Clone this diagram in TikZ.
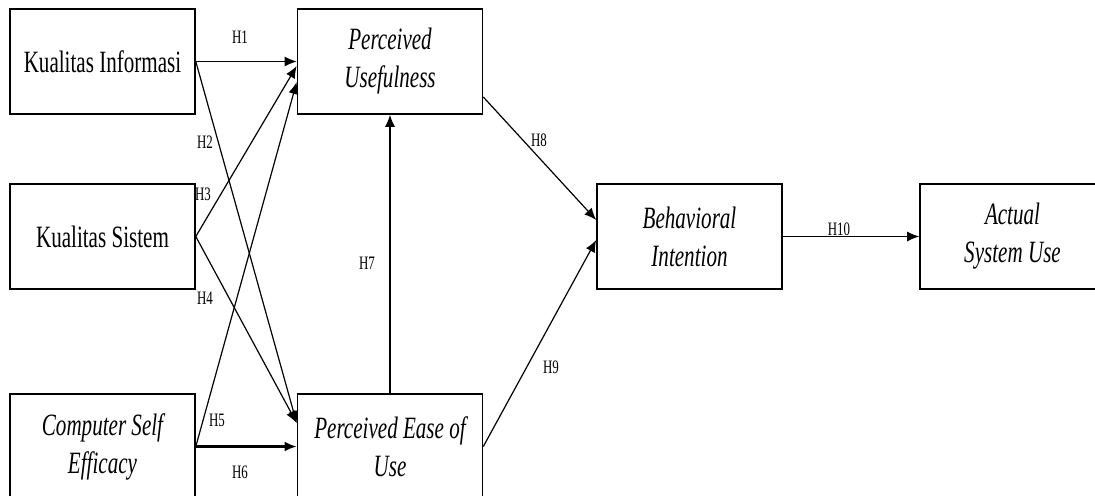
\documentclass[tikz,border=0pt]{standalone}
\usepackage{fontspec}
\newfontfamily\diagfont[FakeStretch=0.68]{Liberation Serif}
\usetikzlibrary{calc,arrows.meta}

\begin{document}
\begin{tikzpicture}[x=0.5pt, y=-0.5pt,
	box/.style={draw, line width=0.8pt, minimum width=92.5pt, minimum height=52.5pt, align=center, inner sep=0pt, font=\diagfont\fontsize{15.5}{19}\selectfont},
	itbox/.style={box, font=\diagfont\fontsize{15.5}{19}\selectfont\itshape},
	link/.style={arrows={-Latex[length=6pt, width=5pt]}, line width=0.6pt},
	hlab/.style={inner sep=0pt, font=\diagfont\fontsize{9.5}{10}\selectfont}]
	\useasboundingbox (0,0) rectangle (1095,495);
	\clip (0,0) rectangle (1095,495);
	\node [box] (ki) at (102.5,61.5) {Kualitas Informasi};
	\node [box] (ks) at (102.5,236.5) {Kualitas Sistem};
	\node [itbox] (cse) at (102.5,446.5) {Computer Self\\Efficacy};
	\node [itbox] (pu) at (390,61.5) {Perceived\\Usefulness};
	\node [itbox] (peu) at (390,446.5) {Perceived Ease of\\Use};
	\node [itbox] (bi) at (689.5,236.5) {Behavioral\\Intention};
	\node [itbox] (asu) at (1012.5,236.5) {Actual\\System Use};
	\coordinate (puin3) at ($(pu.west)+(0,4.5)$);
	\coordinate (puin5) at ($(pu.west)+(0,20.5)$);
	\coordinate (peuin) at ($(peu.west)+(0,-23.5)$);
	\coordinate (puout) at ($(pu.east)+(0,35.5)$);
	\coordinate (biin8) at ($(bi.west)+(0,-16.5)$);
	\coordinate (biin9) at ($(bi.west)+(0,3.5)$);
	\draw [link] (ki.east) -- (pu.west);
	\draw [link] (ki.east) -- (peuin);
	\draw [link] (ks.east) -- (puin3);
	\draw [link] (ks.east) -- (peuin);
	\draw [link] (cse.east) -- (puin5);
	\draw [link, line width=1.3pt] (cse.east) -- (peu.west);
	\draw [link] (peu.north) -- (pu.south);
	\draw [link] (puout) -- (biin8);
	\draw [link] (peu.east) -- (biin9);
	\draw [link] (bi.east) -- (asu.west);
	\node [hlab] (h1) at (240,37) {H1};
	\node [hlab] (h2) at (205,142) {H2};
	\node [hlab] (h3) at (203,194) {H3};
	\node [hlab] (h4) at (205,298) {H4};
	\node [hlab] (h5) at (217,420) {H5};
	\node [hlab] (h6) at (240,472) {H6};
	\node [hlab] (h7) at (367,263) {H7};
	\node [hlab] (h8) at (539,140) {H8};
	\node [hlab] (h9) at (551,367) {H9};
	\node [hlab] (h10) at (839,229) {H10};
\end{tikzpicture}
\end{document}
